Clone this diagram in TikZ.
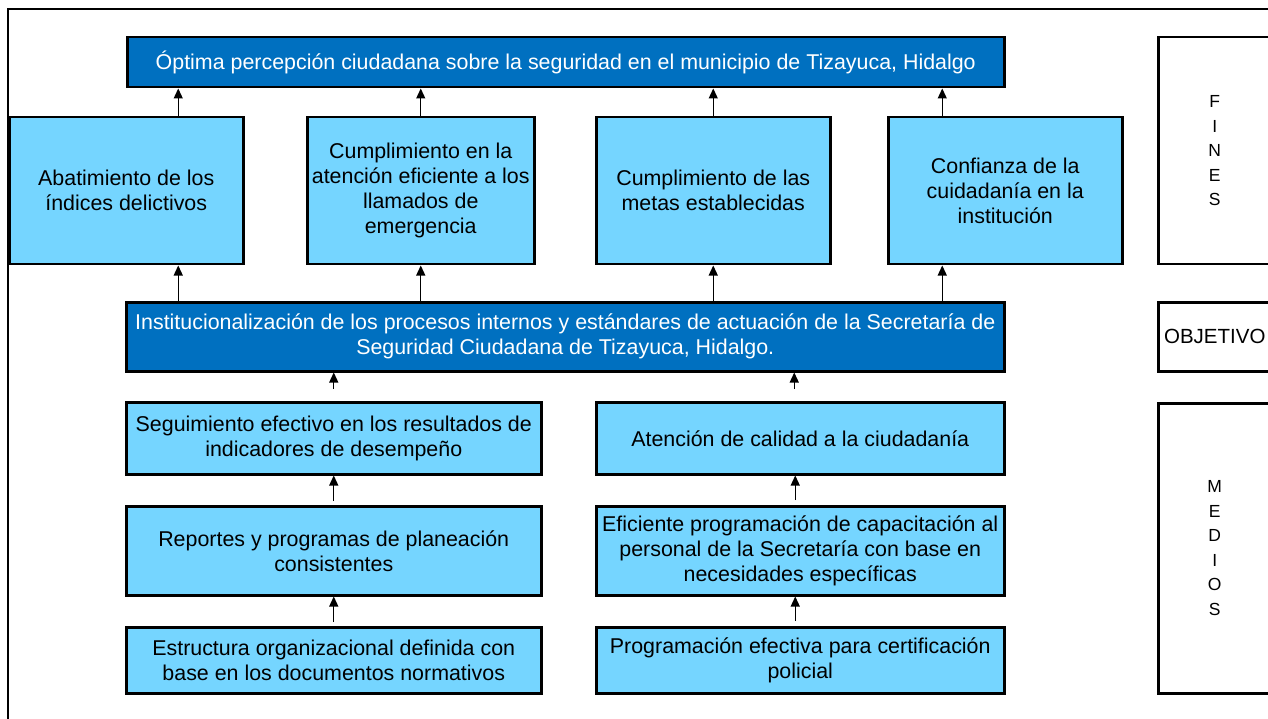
\documentclass[tikz,border=0pt]{standalone}
\usepackage{fontspec}
\setmainfont{Liberation Sans}
\usetikzlibrary{arrows.meta}
\definecolor{celeste}{RGB}{117,213,255}
\definecolor{azul}{RGB}{0,112,192}

\begin{document}
\begin{tikzpicture}[x=1pt, y=-1pt,
    caja/.style={draw, line width=2.5pt, fill=celeste, anchor=north west, align=center, inner sep=1pt, font=\fontsize{21.4}{25}\selectfont},
    cajaosc/.style={caja, fill=azul, text=white},
    etiqueta/.style={draw, line width=2.5pt, fill=white, anchor=north west, align=center, inner sep=0pt, minimum width=113},
    flecha/.style={line width=1.3pt, -{Triangle[length=10pt, width=9pt]}}]
  \useasboundingbox (0,0) rectangle (1268,719);
  \draw[line width=1.5pt] (8,719) -- (8,9) -- (1268,9);
  % fin y fines
  \node[cajaosc, minimum width=877, minimum height=50] (opt) at (126,36) {Óptima percepción ciudadana sobre la seguridad en el municipio de Tizayuca, Hidalgo};
  \node[caja, minimum width=234, minimum height=147] (f1) at (8,116) {Abatimiento de los\\índices delictivos};
  \node[caja, minimum width=227, minimum height=147] (f2) at (306,116) {Cumplimiento en la\\atención eficiente a los\\llamados de\\emergencia};
  \node[caja, minimum width=234, minimum height=147] (f3) at (595,116) {Cumplimiento de las\\metas establecidas};
  \node[caja, minimum width=234, minimum height=147] (f4) at (887,116) {Confianza de la\\cuidadanía en la\\institución};
  % objetivo
  \node[cajaosc, minimum width=878, minimum height=69] (obj) at (125,301) {Institucionalización de los procesos internos y estándares de actuación de la Secretaría de\\Seguridad Ciudadana de Tizayuca, Hidalgo.};
  % medios
  \node[caja, minimum width=415, minimum height=72] (seg) at (125,401) {Seguimiento efectivo en los resultados de\\indicadores de desempeño};
  \node[caja, minimum width=415, minimum height=89] (rep) at (125,505) {Reportes y programas de planeación\\consistentes};
  \node[caja, minimum width=415, minimum height=66] (est) at (125,626) {Estructura organizacional definida con\\base en los documentos normativos};
  \node[caja, minimum width=408, minimum height=72] (ate) at (595,401) {Atención de calidad a la ciudadanía};
  \node[caja, minimum width=408, minimum height=89] (efi) at (595,505) {Eficiente programación de capacitación al\\personal de la Secretaría con base en\\necesidades específicas};
  \node[caja, minimum width=408, minimum height=66] (pro) at (595,626) {Programación efectiva para certificación\\policial};
  % etiquetas
  \node[etiqueta, minimum height=227, font=\fontsize{17.5}{24.5}\selectfont] (fines) at (1157,36) {F\\I\\N\\E\\S};
  \node[etiqueta, minimum height=69, font=\fontsize{20.5}{24}\selectfont] (objetivo) at (1157,301) {OBJETIVO};
  \node[etiqueta, minimum height=290, font=\fontsize{17.5}{24.5}\selectfont] (medios) at (1157,402) {M\\E\\D\\I\\O\\S};
  % flechas
  \foreach \n/\dx in {f1/52, f2/0, f3/0, f4/-63} {
    \draw[flecha] ([xshift=\dx]\n.north) -- ([xshift=\dx]\n.north |- opt.south);
    \draw[flecha] ([xshift=\dx]\n.south |- obj.north) -- ([xshift=\dx]\n.south);
  }
  \draw[flecha, shorten <=12pt] (seg.north) -- (seg.north |- obj.south);
  \draw[flecha, shorten <=12pt] ([xshift=-6]ate.north) -- ([xshift=-6]ate.north |- obj.south);
  \draw[flecha, shorten <=4pt] (rep.north) -- (seg.south);
  \draw[flecha, shorten <=4pt] (est.north) -- (rep.south);
  \draw[flecha, shorten <=5pt] ([xshift=-5]efi.north) -- ([xshift=-5]ate.south);
  \draw[flecha, shorten <=5pt] ([xshift=-5]pro.north) -- ([xshift=-5]efi.south);
\end{tikzpicture}
\end{document}
